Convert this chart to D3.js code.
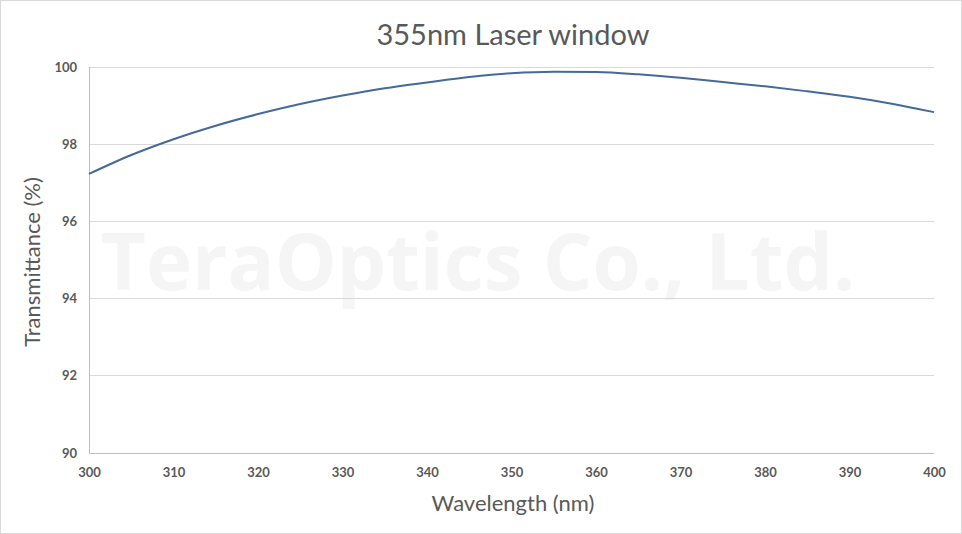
<!DOCTYPE html>
<html><head><meta charset="utf-8">
<script src="https://cdn.jsdelivr.net/npm/d3@7"></script>
<style>body{margin:0;background:#fff}svg{display:block}</style>
</head><body>
<svg id="c" width="962" height="534"></svg>
<script>
const wavelengths = [300,305,310,315,320,325,330,335,340,345,350,355,360,365,370,375,380,385,390,395,400];
const transmittance = [97.23,97.72,98.13,98.48,98.78,99.04,99.26,99.45,99.6,99.74,99.84,99.88,99.87,99.81,99.72,99.61,99.5,99.37,99.23,99.05,98.83];
const xTicks = [300,310,320,330,340,350,360,370,380,390,400];
const yTicks = [90,92,94,96,98,100];
const title = "355nm Laser window";
const xTitle = "Wavelength (nm)";
const yTitle = "Transmittance (%)";
const watermark = "TeraOptics Co., Ltd.";

const svg = d3.select("#c");
const W = 962, H = 534;
const m = {l:89, r:934, t:67, b:453};
const x = d3.scaleLinear().domain([300,400]).range([m.l, m.r]);
const y = d3.scaleLinear().domain([90,100]).range([m.b, m.t]);
const font = "Lato, 'Open Sans', sans-serif";
const txt = "#595959";

svg.append("rect").attr("x",0.5).attr("y",0.5).attr("width",W-1).attr("height",H-1)
  .attr("fill","#fff").attr("stroke","#d9d9d9");

// watermark
svg.append("text").attr("x",478).attr("y",290).attr("text-anchor","middle")
  .attr("font-family","'Open Sans', sans-serif").attr("font-weight","bold").attr("font-size",78)
  .attr("fill","#f5f5f5").text(watermark);

// gridlines
svg.append("g").selectAll("line").data(yTicks.filter(d=>d!==90)).join("line")
  .attr("x1",m.l).attr("x2",m.r).attr("y1",d=>y(d)).attr("y2",d=>y(d))
  .attr("stroke","#d9d9d9").attr("stroke-width",1).attr("shape-rendering","crispEdges");

// axes lines
svg.append("line").attr("x1",m.l).attr("x2",m.l).attr("y1",m.t).attr("y2",m.b)
  .attr("stroke","#bfbfbf").attr("shape-rendering","crispEdges");
svg.append("line").attr("x1",m.l).attr("x2",m.r).attr("y1",m.b).attr("y2",m.b)
  .attr("stroke","#bfbfbf").attr("shape-rendering","crispEdges");

// axes tick labels via d3 axis
const xAxis = svg.append("g").attr("transform",`translate(0,${m.b})`)
  .call(d3.axisBottom(x).tickValues(xTicks).tickSize(0).tickPadding(15).tickFormat(d3.format("d")));
const yAxis = svg.append("g").attr("transform",`translate(${m.l},0)`)
  .call(d3.axisLeft(y).tickValues(yTicks).tickSize(0).tickPadding(12).tickFormat(d3.format("d")));
[xAxis,yAxis].forEach(a=>{
  a.select(".domain").remove();
  a.selectAll("text").attr("font-family",font).attr("font-weight","bold")
    .attr("font-size",13).attr("fill",txt);
});

// line
svg.append("path").datum(wavelengths.map((w,i)=>[w,transmittance[i]]))
  .attr("fill","none").attr("stroke","#44699a").attr("stroke-width",2)
  .attr("d", d3.line().x(d=>x(d[0])).y(d=>y(d[1])).curve(d3.curveMonotoneX));

// titles
svg.append("text").attr("x",513).attr("y",45).attr("text-anchor","middle")
  .attr("font-family",font).attr("font-size",29).attr("fill",txt).text(title);
svg.append("text").attr("x",513).attr("y",511).attr("text-anchor","middle")
  .attr("font-family",font).attr("font-size",22).attr("fill",txt).text(xTitle);
svg.append("text").attr("transform",`translate(40,${(m.t+m.b)/2 + 2}) rotate(-90)`).attr("text-anchor","middle")
  .attr("font-family",font).attr("font-size",22).attr("fill",txt).text(yTitle);
</script>
</body></html>
